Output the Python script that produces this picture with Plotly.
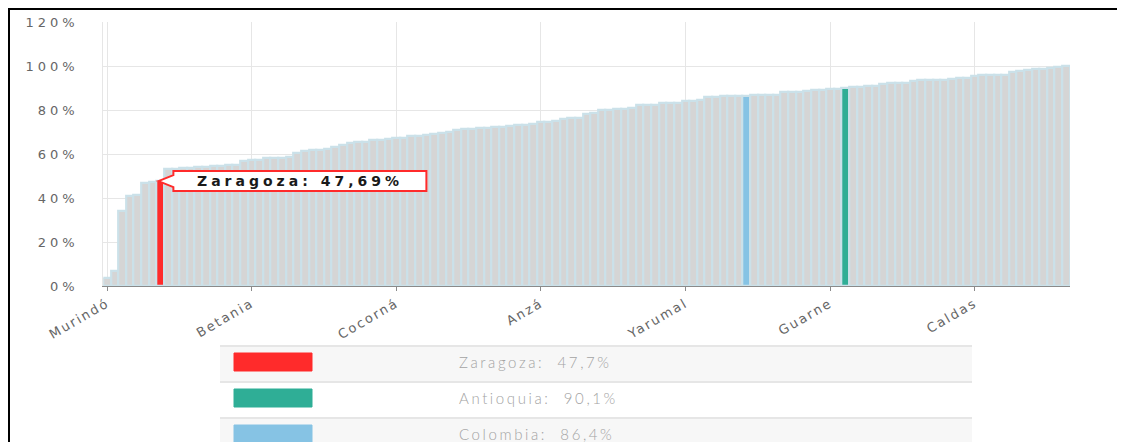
import plotly.graph_objects as go

# ---------- data ----------
names = [
    "Murindó", "Vigía del Fuerte", "Briceño", "Dabeiba", "Uramita", "Mutatá", "Tarazá", "Zaragoza",
    "Nechí", "Cáceres", "Anorí", "El Bagre", "Segovia", "Remedios", "Peque", "Frontino", "Urrao",
    "Cañasgordas", "Abriaquí", "Betania", "Valdivia", "San Juan de Urabá", "Arboletes", "Necoclí",
    "San Pedro de Urabá", "Turbo", "Chigorodó", "Carepa", "Apartadó", "Yondó", "Puerto Berrío",
    "Puerto Nare", "Puerto Triunfo", "Caracolí", "Maceo", "San Luis", "San Francisco", "Argelia",
    "Cocorná", "Nariño", "Sonsón", "Abejorral", "San Carlos", "San Rafael", "Granada", "Alejandría",
    "Concepción", "San Roque", "Santo Domingo", "Cisneros", "Vegachí", "Yalí", "Yolombó", "Amalfi",
    "Gómez Plata", "Guadalupe", "Carolina", "Anzá", "Buriticá", "Sabanalarga", "Liborina", "Olaya",
    "Santa Fe de Antioquia", "Sopetrán", "San Jerónimo", "Ebéjico", "Heliconia", "Caicedo", "Giraldo",
    "Angostura", "Campamento", "Toledo", "San Andrés de Cuerquía", "San José de la Montaña", "Belmira",
    "Entrerríos", "Yarumal", "Santa Rosa de Osos", "Donmatías", "San Pedro de los Milagros", "Armenia",
    "Titiribí", "Angelópolis", "Amagá", "Colombia", "Fredonia", "Venecia", "Montebello", "Santa Bárbara",
    "La Pintada", "Valparaíso", "Caramanta", "Támesis", "Jericó", "Tarso", "Guarne", "Pueblorrico",
    "Antioquia", "Salgar", "Concordia", "Betulia", "Hispania", "Ciudad Bolívar", "Andes", "Jardín",
    "Barbosa", "Girardota", "Copacabana", "Bello", "La Estrella", "Guatapé", "Peñol", "San Vicente",
    "El Santuario", "Caldas", "Marinilla", "El Carmen de Viboral", "La Unión", "La Ceja", "Retiro",
    "Rionegro", "Itagüí", "Sabaneta", "Envigado", "Medellín", "Caucasia", "Ituango",
]

values = [
    3.8, 6.8, 34.2, 41.0, 41.5, 46.6, 47.2, 47.69, 53.2, 53.4, 53.6, 53.8, 54.0, 54.2, 54.4, 54.6,
    54.8, 55.0, 56.8, 57.2, 57.5, 58.0, 58.1, 58.2, 58.5, 60.5, 61.5, 61.8, 62.0, 62.2, 63.3, 64.0,
    64.8, 65.3, 65.6, 66.4, 66.5, 66.6, 67.4, 67.5, 68.2, 68.3, 68.5, 69.1, 69.5, 70.1, 71.0, 71.2,
    71.3, 71.8, 72.0, 72.1, 72.3, 72.8, 73.2, 73.4, 73.6, 74.5, 74.7, 75.0, 75.8, 76.2, 76.5, 78.0,
    78.5, 80.0, 80.1, 80.3, 80.5, 80.8, 82.2, 82.3, 82.5, 83.0, 83.1, 83.4, 84.0, 84.2, 84.5, 86.0,
    86.1, 86.2, 86.3, 86.3, 86.4, 86.6, 86.8, 86.9, 87.0, 88.2, 88.3, 88.4, 88.5, 89.2, 89.3, 89.4,
    89.6, 90.1, 90.4, 90.6, 90.7, 90.9, 91.8, 92.1, 92.3, 92.5, 93.3, 93.5, 93.6, 93.7, 93.8, 94.3,
    94.4, 94.6, 95.5, 95.7, 95.8, 95.9, 96.0, 97.4, 97.6, 98.4, 98.6, 98.8, 99.0, 99.4, 100.0,
]

tick_names = ["Murindó", "Betania", "Cocorná", "Anzá", "Yarumal", "Guarne", "Caldas"]
y_ticks = [0, 20, 40, 60, 80, 100, 120]

highlight = {"Zaragoza": "#ff2b2b", "Antioquia": "#2fae96", "Colombia": "#86c3e4"}
legend_labels = ["Zaragoza:  47,7%", "Antioquia:  90,1%", "Colombia:  86,4%"]
legend_colors = ["#ff2b2b", "#2fae96", "#86c3e4"]
callout_text = "Zaragoza: 47,69%"

# ---------- figure ----------
W, H = 1125, 442
OFF = 8  # page body margin shifts the figure by this many px

def px(x):
    return (x - OFF) / W
def py(y):
    return 1 - (y - OFF) / H

def spaced(t, sp):
    return f'<span style="letter-spacing:{sp}px">{t}</span>'

bar_colors = [highlight.get(n, "#d5d5d5") for n in names]

fig = go.Figure(go.Bar(
    x=names, y=values,
    marker=dict(color=bar_colors, line=dict(color="#cbe1e9", width=2.2)),
    hovertemplate="%{x}: %{y:.2f}%<extra></extra>",
))

grid = "#e6e6e6"
fig.update_layout(
    width=W, height=H,
    margin=dict(l=0, r=0, t=0, b=0, autoexpand=False),
    paper_bgcolor="white", plot_bgcolor="white",
    bargap=0, showlegend=False,
    font=dict(family="DejaVu Sans", color="#666"),
    xaxis=dict(
        domain=[px(103.3), px(1070)], automargin=False,
        type="category", categoryorder="array", categoryarray=names,
        range=[-0.5, len(names) - 0.5],
        tickmode="array", tickvals=tick_names,
        ticktext=[spaced(t, 2) for t in tick_names],
        tickangle=-30, tickfont=dict(size=13, color="#666"),
        showgrid=True, gridcolor=grid, gridwidth=1,
        showline=True, linecolor="#8a8a8a", linewidth=1,
        ticks="outside", ticklen=4, tickcolor="#8a8a8a",
        zeroline=False,
    ),
    yaxis=dict(
        domain=[py(286), py(22)], automargin=False,
        range=[0, 120],
        tickmode="array", tickvals=y_ticks,
        ticktext=[spaced(f"{v}%", 4) for v in y_ticks],
        tickfont=dict(size=13, color="#666"),
        ticklabelstandoff=21,
        showgrid=True, gridcolor=grid, gridwidth=1,
        showline=True, linecolor=grid, zeroline=False,
    ),
)

# callout on the Zaragoza bar
zi = names.index("Zaragoza")
fig.add_shape(
    type="path", xref="x", yref="y",
    xsizemode="pixel", ysizemode="pixel",
    xanchor=zi, yanchor=values[zi],
    path="M -2 0 L 13 6 L 13 10 L 266 10 L 266 -10 L 13 -10 L 13 -6 Z",
    fillcolor="white", line=dict(color="#ff2b2b", width=2), layer="above",
)
fig.add_annotation(
    x=zi, y=values[zi], xref="x", yref="y", xshift=140, showarrow=False,
    text="<b>" + spaced(callout_text, 4) + "</b>",
    font=dict(family="DejaVu Sans", size=14, color="#1a1a1a"),
)

# legend table below the chart
row_top = [346, 382, 418]
row_bg = ["#f7f7f7", "#ffffff", "#f7f7f7"]
for i, (lab, col) in enumerate(zip(legend_labels, legend_colors)):
    t = row_top[i]
    fig.add_shape(type="rect", xref="paper", yref="paper",
                  x0=px(220), x1=px(972), y0=py(t + 36), y1=py(t),
                  fillcolor=row_bg[i], line_width=0, layer="below")
    fig.add_shape(type="line", xref="paper", yref="paper",
                  x0=px(220), x1=px(972), y0=py(t), y1=py(t),
                  line=dict(color="#e6e6e6", width=2))
    fig.add_shape(type="rect", xref="paper", yref="paper",
                  x0=px(234), x1=px(312), y0=py(t + 25), y1=py(t + 7),
                  fillcolor=col, line=dict(color=col, width=1))
    fig.add_annotation(x=px(457), y=py(t + 16), xref="paper", yref="paper",
                       xanchor="left", yanchor="middle", showarrow=False,
                       text=spaced(lab, 2.6),
                       font=dict(family="Lato", size=15, color="#a3a3a3", weight=300))

# outer frame
fig.add_shape(type="rect", xref="paper", yref="paper",
              x0=px(9), x1=px(1119), y0=py(470), y1=py(9),
              line=dict(color="black", width=2), fillcolor="rgba(0,0,0,0)")

fig.write_html("out.html")
